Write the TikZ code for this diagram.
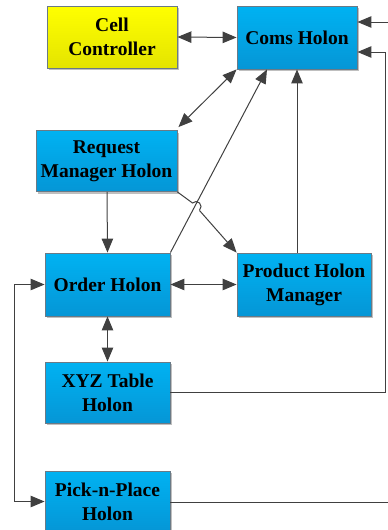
\documentclass[tikz,border=0pt]{standalone}
\usepackage{fontspec}
\setmainfont{Liberation Serif}
\usetikzlibrary{arrows.meta,shadows}
\definecolor{holonTop}{HTML}{00B2F2}
\definecolor{holonBot}{HTML}{0596D6}
\definecolor{ctrlTop}{HTML}{FFFF00}
\definecolor{ctrlBot}{HTML}{E4E400}
\definecolor{rim}{HTML}{6A7A86}
\definecolor{wire}{HTML}{404040}
\tikzset{
  holon/.style={draw=rim, line width=0.9pt, top color=holonTop, bottom color=holonBot,
    align=center, font=\fontsize{19.5}{24}\selectfont\bfseries, inner sep=0pt,
    drop shadow={shadow xshift=2pt, shadow yshift=-2pt, opacity=0.25, fill=black}},
  ctrl/.style={holon, top color=ctrlTop, bottom color=ctrlBot},
  link/.style={draw=wire, line width=1pt, -{Triangle[length=14pt,width=11.5pt]}},
  dlink/.style={link, {Triangle[length=14pt,width=11.5pt]}-{Triangle[length=14pt,width=11.5pt]}},
  plain/.style={draw=wire, line width=1pt}
}
\begin{document}
\begin{tikzpicture}[x=1pt,y=-1pt]
\useasboundingbox (0,0) rectangle (388,530);
\clip (0,0) rectangle (388,530);
% boxes
\node[ctrl, minimum width=130pt, minimum height=62pt] (cell) at (112,37) {Cell\\Controller};
\node[holon, minimum width=120pt, minimum height=63pt] (coms) at (297,37.5) {Coms Holon};
\node[holon, minimum width=141pt, minimum height=61pt] (req) at (106.5,161) {Request\\Manager Holon};
\node[holon, minimum width=125pt, minimum height=63pt] (order) at (107.5,284.5) {Order Holon};
\node[holon, minimum width=134pt, minimum height=63pt] (prod) at (304,284.5) {Product Holon\\Manager};
\node[holon, minimum width=125pt, minimum height=61pt] (xyz) at (107.5,392.5) {XYZ Table\\Holon};
\node[holon, minimum width=125pt, minimum height=61pt] (pnp) at (107.5,501.5) {Pick-n-Place\\Holon};
% auxiliary points
\coordinate (rmA) at (385.5,52);
\coordinate (rmB) at (385.5,392.5);
\coordinate (ofA) at (402,22);
\coordinate (ofB) at (402,502);
\coordinate (lfA) at (14,284.5);
\coordinate (lfB) at (14,501.5);
\coordinate (hopL) at (192.5,203);
\coordinate (hopR) at (199.5,210.5);
% connectors
\draw[dlink] (cell.east) -- (coms.west);
\draw[dlink] (req.north east) ++(1,-3) coordinate (rq) (rq) -- (coms.south west);
\draw[link] (order.north east) -- (coms.south west -| 267,0);
\draw[link] (prod.north -| 297,0) -- (coms.south -| 297,0);
\draw[link] (req.south) ++(0.5,0) coordinate (rs) (rs) -- (order.north);
\draw[dlink] (order.east) -- (prod.west);
\draw[dlink] (order.south) -- (xyz.north);
\draw[link] (req.south east) -- (hopL) arc[start angle=135, end angle=-45, radius=5pt] (hopR) -- (prod.north west);
\draw[link] (xyz.east) -- (rmB) -- (rmA) -- (coms.east |- rmA);
\draw[link] (pnp.east |- ofB) -- (ofB) -- (ofA) -- (coms.east |- ofA);
\draw[dlink] (order.west) -- (lfA) -- (lfB) -- (pnp.west);
\end{tikzpicture}
\end{document}
